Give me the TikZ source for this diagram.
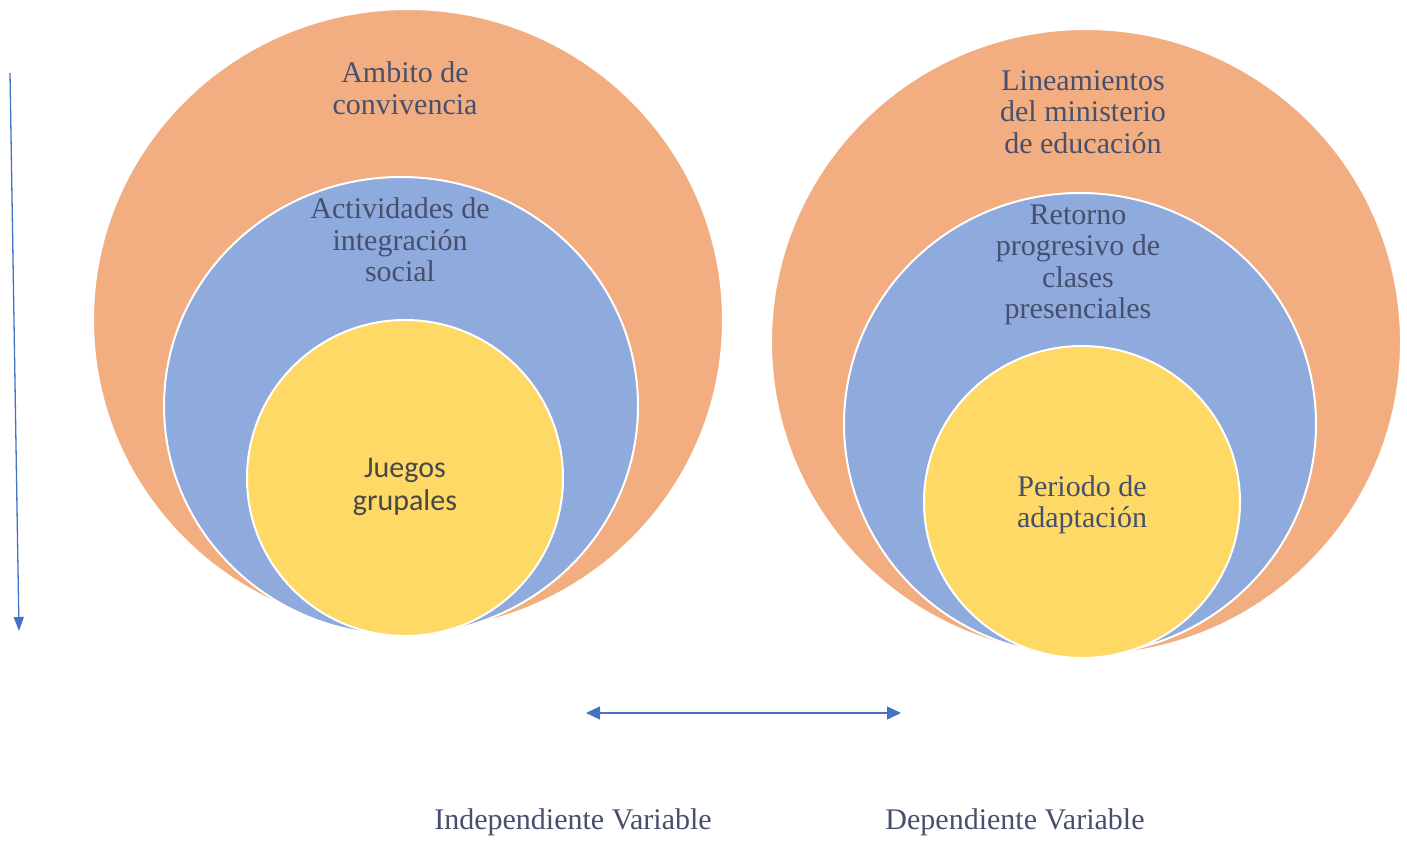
\documentclass[tikz,border=0pt]{standalone}
\usepackage{fontspec}
\setmainfont{Liberation Serif}
\newfontfamily\calib{Carlito}
\usetikzlibrary{shapes.geometric,arrows.meta}
\definecolor{ringO}{HTML}{F2AE80}
\definecolor{ringB}{HTML}{8FAADC}
\definecolor{ringY}{HTML}{FFD966}
\definecolor{txt}{HTML}{46506E}
\definecolor{arr}{HTML}{4472C4}
\begin{document}
\begin{tikzpicture}[x=1pt,y=-1pt,
  ring/.style={ellipse, draw=white, line width=2pt, inner sep=0pt},
  lbl/.style={align=center, text=txt, font=\fontsize{30}{31.5}\selectfont, inner sep=0pt},
  arrline/.style={draw=arr, line width=1.3pt}]
\useasboundingbox (0,0) rectangle (1407,845);
% left set
\node[ring, fill=ringO, minimum width=630pt, minimum height=622pt] (lo) at (408,320) {};
\node[ring, fill=ringB, minimum width=474pt, minimum height=458pt] (lb) at (401,406) {};
\node[ring, fill=ringY, minimum width=316pt, minimum height=316pt] (ly) at (405,478) {};
% right set
\node[ring, fill=ringO, minimum width=630pt, minimum height=626pt] (ro) at (1086,342) {};
\node[ring, fill=ringB, minimum width=472pt, minimum height=462pt] (rb) at (1080,424) {};
\node[ring, fill=ringY, minimum width=316pt, minimum height=312pt] (ry) at (1082,502) {};
% labels
\node[lbl] (tlo) at (405,88) {Ambito de\\convivencia};
\node[lbl] (tlb) at (400,240) {Actividades de\\integración\\social};
\node[lbl, text=black!72, font=\calib\fontsize{30}{33}\selectfont] (tly) at (405,487) {Juegos\\grupales};
\node[lbl] (tro) at (1083,112) {Lineamientos\\del ministerio\\de educación};
\node[lbl] (trb) at (1078,265) {Retorno\\progresivo de\\clases\\presenciales};
\node[lbl] (try) at (1082,505) {Periodo de\\adaptación};
\node[lbl] (tind) at (573,822) {Independiente Variable};
\node[lbl] (tdep) at (1015,822) {Dependiente Variable};
% arrows
\coordinate (vtop) at (10,73);
\coordinate (vbot) at (19,631);
\draw[arrline, -{Triangle[length=14pt,width=10pt]}] (vtop) -- (vbot);
\coordinate (hl) at (586,713);
\coordinate (hr) at (901,713);
\draw[arrline, {Triangle[length=14pt,width=13pt]}-{Triangle[length=14pt,width=13pt]}] (hl) -- (hr);
\end{tikzpicture}
\end{document}
